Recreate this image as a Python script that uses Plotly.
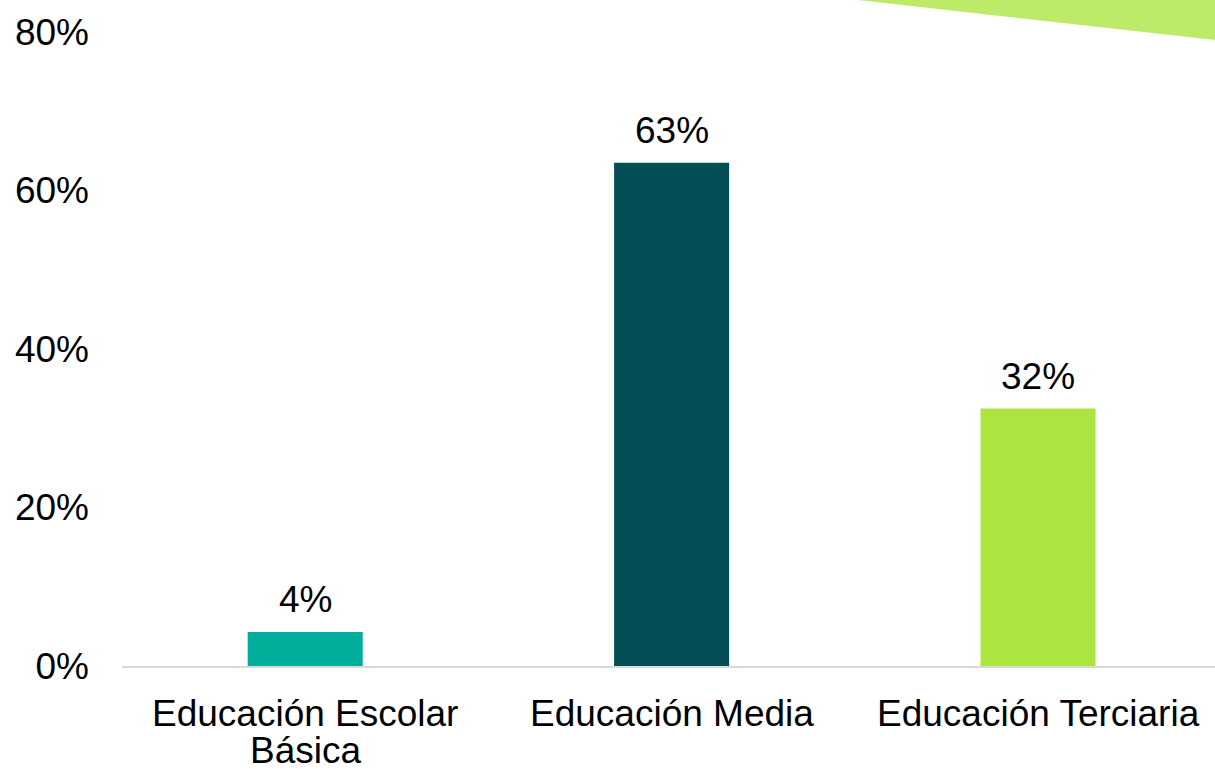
import plotly.graph_objects as go

categories = ["Educación Escolar<br>Básica", "Educación Media", "Educación Terciaria"]
values = [4.3, 63.5, 32.5]
labels = ["4%", "63%", "32%"]
bar_colors = ["#00AE9B", "#034F55", "#ADE540"]
y_ticks = [0, 20, 40, 60, 80]
y_tick_labels = ["0%", "20%", "40%", "60%", "80%"]

FONT = "Arial, Liberation Sans, sans-serif"
FS = 37

fig = go.Figure(
    go.Bar(
        x=categories,
        y=values,
        marker=dict(color=bar_colors, line=dict(width=0)),
        width=0.314,
        cliponaxis=False,
    )
)

# data labels
for cat, val, lab in zip(categories, values, labels):
    fig.add_annotation(
        x=cat, y=val, text=lab, showarrow=False,
        xref="x", yref="y", yanchor="middle", yshift=32,
        font=dict(family=FONT, size=FS, color="#000000"),
    )

# category labels (line spacing as in reference)
for cat in categories:
    for i, line in enumerate(cat.split("<br>")):
        fig.add_annotation(
            x=cat, y=0, text=line, showarrow=False,
            xref="x", yref="paper", yanchor="middle", yshift=-47 - 37 * i,
            font=dict(family=FONT, size=FS, color="#000000"),
        )

fig.add_shape(
    type="path",
    xref="paper", yref="paper",
    path="M 0.673 1.0505 L 1.0 1.0505 L 1.0 0.9874 Z",
    fillcolor="#BEEA6A",
    line=dict(width=0),
    layer="below",
)

fig.update_layout(
    width=1215,
    height=769,
    margin=dict(l=122, r=0, t=32, b=103),
    paper_bgcolor="white",
    plot_bgcolor="white",
    showlegend=False,
    font=dict(family=FONT, size=FS, color="#000000"),
    xaxis=dict(
        range=[-0.5, 2.483],
        showgrid=False,
        showline=True,
        linecolor="#D9D9D9",
        linewidth=2,
        ticks="",
        showticklabels=False,
    ),
    yaxis=dict(
        range=[0, 80],
        tickvals=y_ticks,
        ticktext=y_tick_labels,
        showgrid=False,
        zeroline=False,
        showline=False,
        ticks="",
        ticklabelstandoff=32,
        tickfont=dict(family=FONT, size=FS, color="#000000"),
    ),
)

fig.write_html(
    "out.html",
    config={"displayModeBar": False},
    post_script="document.body.style.margin='0px';document.body.style.overflow='hidden';",
)
